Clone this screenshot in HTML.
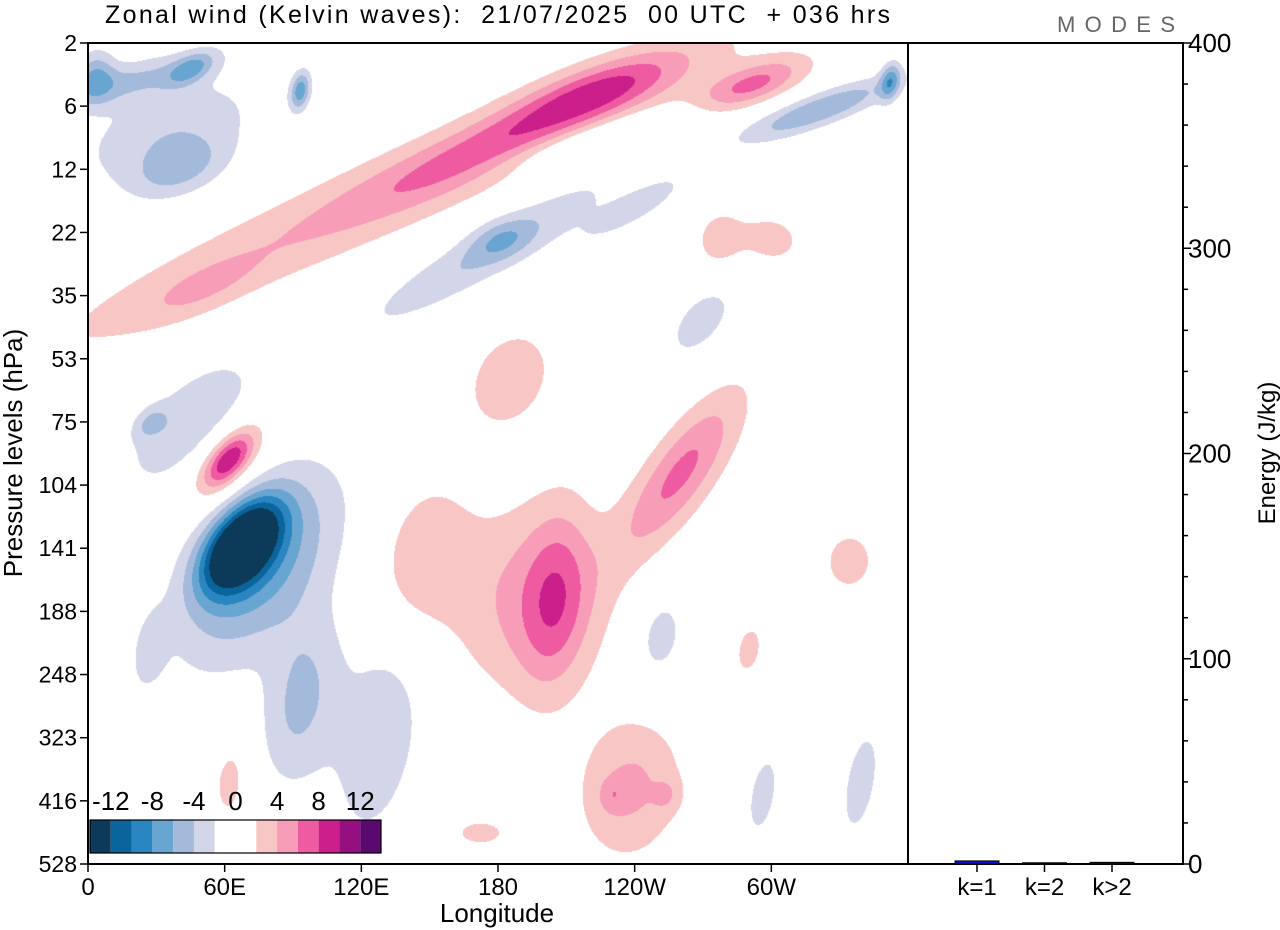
<!DOCTYPE html>
<html><head><meta charset="utf-8">
<style>
body{margin:0;background:#fff;width:1280px;height:930px;overflow:hidden;font-family:"Liberation Sans",Arial,sans-serif}
#wrap{position:relative;width:1280px;height:930px}
canvas{position:absolute;left:88px;top:43px}
svg{position:absolute;left:0;top:0}
text{font-family:"Liberation Sans",Arial,sans-serif;fill:#000}
</style></head><body>
<div id="wrap">
<canvas id="cv" width="820" height="821"></canvas>
<svg id="sv" width="1280" height="930"></svg>
</div>
<script>
// ---- data ----
const levelLabels=["2","6","12","22","35","53","75","104","141","188","248","323","416","528"];
const lonLabels=["0","60E","120E","180","120W","60W"];
const lonTicks=[0,60,120,180,240,300];
const energyTicks=[0,100,200,300,400];
const energyCats=["k=1","k=2","k>2"];
const energyVals=[1.5,0.6,0.8];
const cbLevels=[-14,-12,-10,-8,-6,-4,-2,0,2,4,6,8,10,12,14];
const cbColors=["#0b3b59","#0a659d","#2a86c0","#68a5d1","#a4badb","#d3d5e9","#ffffff","#ffffff","#f9c6c6","#f79db8","#ee5ba1","#cb1f8c","#960f80","#5a0a6e"];
// anomaly blobs: longitude, level index, amplitude, along-axis width (deg), across width (deg), tilt (deg ccw)
const blobLon=[67,75,93,128,45,27,61.5,61.5,205,194,146,260,185,334,290,238,230,254,62,172,124,172,225,291,49,277,300,18,93,45,40,321,352,3,176,181,225,251,269,339,296,27,190,240,35];
const blobLev=[7.94,8.3,10.4,10.9,6,6,6.6,6.6,8.8,8.8,8.2,6.8,5.3,8.2,9.6,11.8,11.9,11.9,11.7,12.5,2.5,1.7,0.75,0.66,3.9,3.1,3.1,0.6,0.75,0.4,2,1.05,0.6,0.5,3.3,3.1,1.5,9.4,4.4,11.7,11.9,9.6,6.6,2.6,1.4];
const blobAmp=[-16,-7,-4.5,-3.2,-4,-3,8,3,4.5,4.5,3.5,6.5,3,2.8,2.5,4.5,2,2,3,2.5,4,3.5,6,6.5,2,3,3,-4,-7,-5,-4,-6,-6,-5,-4,-3,-3,-3,-3,-3,-3,-3,-2.8,-3,-3.5];
const blobSx=[16,33,26,40,25,6,10,18,28,30,25,30,20,12,12,22,5,5,12,12,120,40,28,18,18,10,8,25,6,8,15,25,6,8,45,10,30,15,15,20,15,12,8,20,30];
const blobSy=[9,18,11,15,12,4,5,10,10,25,14,10,15,10,6,16,4,4,5,6,13,8,8,6,6,8,10,6,3,4,8,5,3,6,8,6,5,8,8,6,5,5,5,5,14];
const blobRot=[53,55,80,80,45,45,50,50,85,80,80,55,60,85,80,80,80,80,85,0,24,24,20,20,24,80,80,15,80,30,20,20,80,80,30,20,15,80,50,80,80,80,0,30,20];
// ---- layout ----
const X0=88,X1=908,Y0=43,Y1=864;
const xs=l=>X0+l/360*(X1-X0);
const ys=v=>Y0+v/(levelLabels.length-1)*(Y1-Y0);
const EX0=908,EX1=1183;
const ey=e=>Y1-e/400*(Y1-Y0);
// ---- field ----
const cv=document.getElementById('cv'),ctx=cv.getContext('2d');
const W=820,H=821,img=ctx.createImageData(W,H);
const pal=cbColors.map(c=>[parseInt(c.substr(1,2),16),parseInt(c.substr(3,2),16),parseInt(c.substr(5,2),16)]);
const dpx=(X1-X0)/360;
const B=blobLon.map((l,i)=>{const r=blobRot[i]*Math.PI/180;return{cx:xs(l)-X0,cy:ys(blobLev[i])-Y0,a:blobAmp[i],sx:blobSx[i]*dpx,sy:blobSy[i]*dpx,c:Math.cos(r),s:Math.sin(r)}});
for(let y=0;y<H;y++)for(let x=0;x<W;x++){let v=0;for(const b of B){const dx=x-b.cx,dy=-(y-b.cy);const u=dx*b.c+dy*b.s,w=-dx*b.s+dy*b.c;const q=(u*u)/(b.sx*b.sx)+(w*w)/(b.sy*b.sy);if(q<16)v+=b.a*Math.exp(-0.5*q);}
let k=Math.floor((v+14)/2);k=Math.max(0,Math.min(13,k));const p=pal[k],o=(y*W+x)*4;img.data[o]=p[0];img.data[o+1]=p[1];img.data[o+2]=p[2];img.data[o+3]=255;}
ctx.putImageData(img,0,0);
// ---- svg ----
const sv=document.getElementById('sv'),NS='http://www.w3.org/2000/svg';
function mk(t,a,p){const e=document.createElementNS(NS,t);for(const k in a)e.setAttribute(k,a[k]);(p||sv).appendChild(e);return e}
function line(x1,y1,x2,y2,w){return mk('line',{x1,y1,x2,y2,stroke:'#000','stroke-width':w||1.5})}
let t;
mk('rect',{x:X0,y:Y0,width:X1-X0,height:Y1-Y0,fill:'none',stroke:'#000','stroke-width':2});
mk('rect',{x:EX0,y:Y0,width:EX1-EX0,height:Y1-Y0,fill:'none',stroke:'#000','stroke-width':2});
levelLabels.forEach((s,i)=>{const y=ys(i);line(X0-8,y,X0,y);t=mk('text',{x:77,y:y+8,'text-anchor':'end','font-size':23});t.textContent=s;

});
lonTicks.forEach((l,i)=>{const x=xs(l);line(x,Y1,x,Y1+8);t=mk('text',{x:x,y:895,'text-anchor':'middle','font-size':24});t.textContent=lonLabels[i];

});
for(let e=0;e<=400;e+=20){const y=ey(e);const maj=e%100===0;line(EX1,y,EX1+(maj?8:5),y);if(maj){t=mk('text',{x:1188,y:y+9,'font-size':26});t.textContent=e;

}}
energyCats.forEach((c,i)=>{const x=977+i*67.5;line(x,Y1,x,Y1+8);const h=Y1-ey(energyVals[i]);
const r=mk('rect',{x:x-22,y:Y1-h,width:44,height:h,fill:i===0?'#1010d0':'#202020',stroke:'#000','stroke-width':1});


t=mk('text',{x:x,y:895,'text-anchor':'middle','font-size':24});t.textContent=c;

});
// colorbar
const cbg=mk('g',{});
const bw=(381-90)/cbColors.length;
cbColors.forEach((c,i)=>mk('rect',{x:90+i*bw,y:820,width:bw,height:33,fill:c},cbg));
mk('rect',{x:90,y:820,width:291,height:33,fill:'none',stroke:'#000','stroke-width':1.2},cbg);
cbLevels.forEach((v,i)=>{if(v%4===0&&Math.abs(v)<=12){t=mk('text',{x:90+i*bw,y:810,'text-anchor':'middle','font-size':26},cbg);t.textContent=v;}});
</script>
<svg width="1280" height="930" style="position:absolute;left:0;top:0;pointer-events:none">
<text x="105" y="23" font-size="25" textLength="785" xml:space="preserve" style="white-space:pre">Zonal wind (Kelvin waves):  21/07/2025  00 UTC  + 036 hrs</text>
<text x="1057" y="32" font-size="22" textLength="118" style="fill:#666">MODES</text>
<text x="497" y="922" font-size="26" text-anchor="middle">Longitude</text>
<text transform="translate(22,453) rotate(-90)" font-size="26" text-anchor="middle">Pressure levels (hPa)</text>
<text transform="translate(1275,453) rotate(-90)" font-size="24" text-anchor="middle">Energy (J/kg)</text>
</svg>
</body></html>
